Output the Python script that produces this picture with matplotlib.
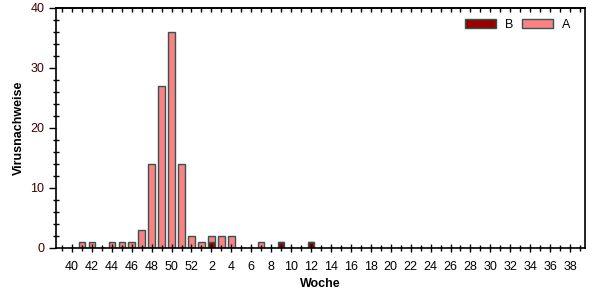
import matplotlib.pyplot as plt
import numpy as np

plt.rcParams['font.family'] = ['Liberation Sans', 'DejaVu Sans']

# weeks 40..52 followed by 1..39
weeks = list(range(40, 53)) + list(range(1, 40))
a_vals = [0, 1, 1, 0, 1, 1, 1, 3, 14, 27, 36, 14, 2,
          1, 1, 2, 2, 0, 0, 1, 0, 0, 0, 0, 0] + [0] * 27
b_vals = [0] * 13 + [0, 1, 0, 0, 0, 0, 0, 0, 1, 0, 0, 1] + [0] * 27

x = np.arange(len(weeks))
edge = '#2f5555'

fig = plt.figure(figsize=(6.02, 3.0), dpi=100)
ax = fig.add_axes([56 / 602, 52 / 300, 529 / 602, 240 / 300])

ax.bar(x, b_vals, width=0.65, color='#990000', edgecolor=edge, linewidth=1, label='B')
ax.bar(x, a_vals, width=0.65, bottom=b_vals, color='#ff8080', edgecolor=edge,
       linewidth=1, label='A')

ax.set_xlim(-1.6, 51.5)
ax.set_ylim(0, 40)
ax.set_xticks(x[::2])
ax.set_xticklabels([str(w) for w in weeks[::2]])
ax.set_xticks(np.arange(-1, 52), minor=True)
ax.set_yticks([0, 10, 20, 30, 40])
ax.set_yticks(np.arange(0, 41, 2), minor=True)

ax.tick_params(axis='x', which='both', direction='inout', length=6, width=1,
               labelsize=9, pad=6, colors='black')
ax.tick_params(axis='x', which='minor', length=5)
ax.tick_params(axis='y', which='major', direction='out', length=5, width=1,
               labelsize=9, labelcolor='#400000')
ax.tick_params(axis='y', which='minor', direction='inout', length=5, width=1)

top = ax.secondary_xaxis('top')
top.set_xticks(np.arange(-1, 52))
top.tick_params(direction='in', length=3, width=1, labeltop=False)
top.spines['top'].set_linewidth(1.2)

for s in ax.spines.values():
    s.set_linewidth(1.2)

ax.set_xlabel('Woche', fontsize=9, fontweight='bold', labelpad=4)
ax.set_ylabel('Virusnachweise', fontsize=9, fontweight='bold', labelpad=4)

ax.legend(loc='upper right', ncol=2, frameon=False, fontsize=9,
          handlelength=2.5, handleheight=0.7, columnspacing=0.7,
          handletextpad=0.7, borderaxespad=0.2, bbox_to_anchor=(0.986, 0.985))

fig.savefig('out.png', dpi=100)
